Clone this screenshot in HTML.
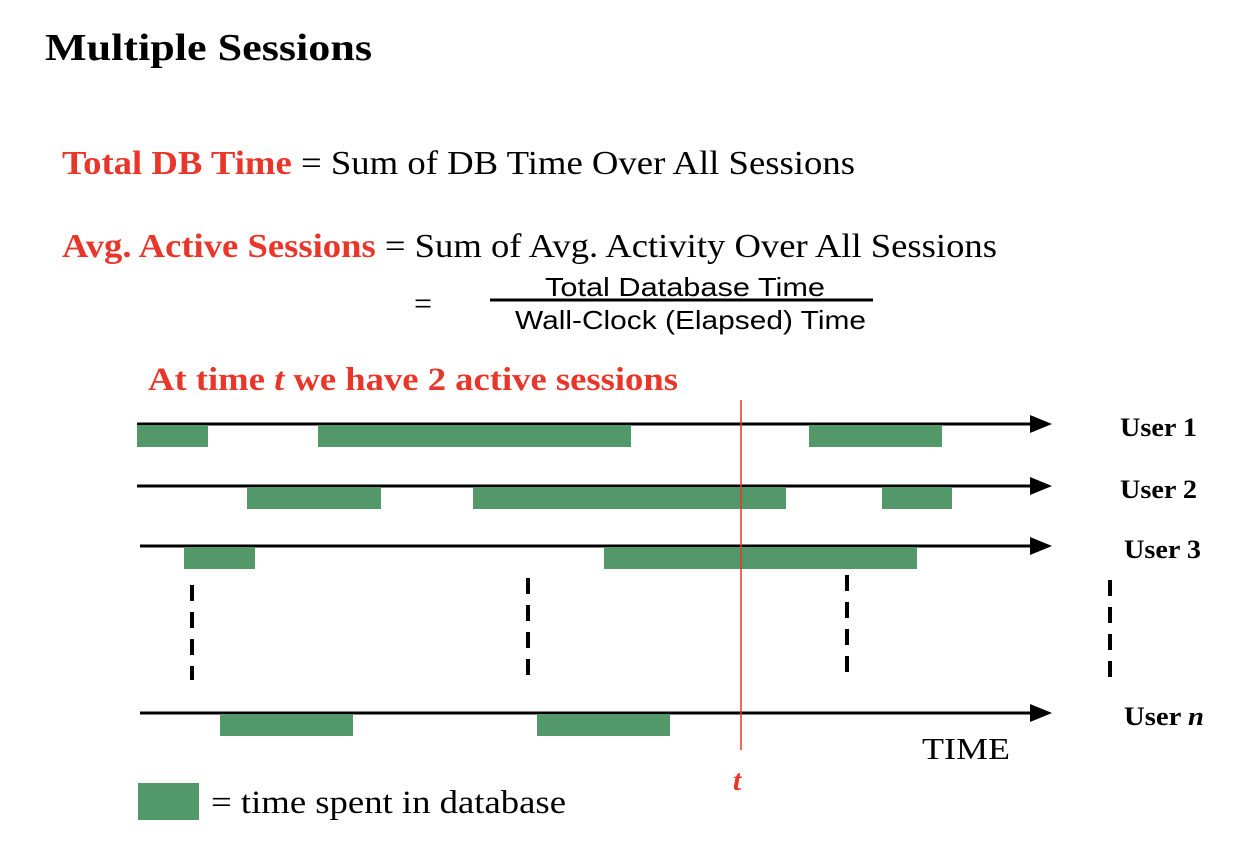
<!DOCTYPE html>
<html><head><meta charset="utf-8"><style>
body{margin:0;background:#fff;width:1256px;height:854px;overflow:hidden}
svg{display:block}
</style></head><body>
<svg id="c" width="1256" height="854" font-family="Liberation Serif, serif">
<text x="45" y="60" font-size="38" font-weight="bold" textLength="327" lengthAdjust="spacingAndGlyphs">Multiple Sessions</text>
<text x="62" y="174" font-size="34" textLength="793" lengthAdjust="spacingAndGlyphs"><tspan fill="#e8372a" font-weight="bold">Total DB Time</tspan> = Sum of DB Time Over All Sessions</text>
<text x="62" y="257" font-size="34" textLength="935" lengthAdjust="spacingAndGlyphs"><tspan fill="#e8372a" font-weight="bold">Avg. Active Sessions</tspan> = Sum of Avg. Activity Over All Sessions</text>
<text x="414" y="314" font-size="32">=</text>
<text x="545" y="296" font-size="26" textLength="280" lengthAdjust="spacingAndGlyphs" font-family="Liberation Sans, sans-serif">Total Database Time</text>
<line x1="490" y1="300" x2="873" y2="300" stroke="#000" stroke-width="3"/>
<text x="515" y="329" font-size="26" textLength="351" lengthAdjust="spacingAndGlyphs" font-family="Liberation Sans, sans-serif">Wall-Clock (Elapsed) Time</text>
<text x="148" y="390" font-size="33" textLength="530" lengthAdjust="spacingAndGlyphs" fill="#e8372a" font-weight="bold">At time <tspan font-style="italic">t</tspan> we have 2 active sessions</text>
<g id="plot"></g>
<text x="922" y="759" font-size="31" textLength="88" lengthAdjust="spacingAndGlyphs">TIME</text>
<rect x="138" y="783" width="61" height="37" fill="#529869"/>
<text x="211" y="813" font-size="33" textLength="355" lengthAdjust="spacingAndGlyphs">= time spent in database</text>
</svg>
<script>
const users = ["User 1","User 2","User 3","User n"];
const userLabels = ["User 1","User 2","User 3","User "];
const sessionStarts = [[0,181,672],[110,336,745],[47,467],[83,400]];
const sessionEnds = [[71,494,805],[244,649,815],[118,780],[216,533]];
const markerTime = 604;
const lineY = [424,486,546,713];
const x0 = 137, x1 = 1050;
const xScale = t => x0 + t;
const NS = "http://www.w3.org/2000/svg";
const g = document.getElementById('plot');
function mk(tag, attrs){const e=document.createElementNS(NS,tag);for(const k in attrs)e.setAttribute(k,attrs[k]);g.appendChild(e);return e;}
users.forEach((u,i)=>{
  const y=lineY[i];
  const sx = i>=2?140:137;
  const ln=mk('line',{x1:sx,y1:y,x2:1032,y2:y,stroke:'#000','stroke-width':3});
  
  
  const ar=mk('polygon',{points:`1030,${y-9} 1052,${y} 1030,${y+9}`,fill:'#000'});
  
  
  sessionStarts[i].forEach((s,j)=>{
    const e=sessionEnds[i][j];
    const r=mk('rect',{x:xScale(s),y:y+1,width:xScale(e)-xScale(s),height:22,fill:'#529869'});
    
    
  });
  const t=mk('text',{x:i==0||i==1?1120:1124,y:y+12,'font-size':26,'font-weight':'bold',textLength:i==3?80:77,lengthAdjust:'spacingAndGlyphs'});
  t.textContent=userLabels[i];
  if(i==3){const ts=document.createElementNS(NS,'tspan');ts.setAttribute('font-style','italic');ts.textContent='n';t.appendChild(ts);}
  
  
});
[[192,585,680],[528,578,678],[847,575,675],[1110,580,680]].forEach(d=>{
  const l=mk('line',{x1:d[0],y1:d[1],x2:d[0],y2:d[2],stroke:'#000','stroke-width':4,'stroke-dasharray':'16 11'});
  
  
});
const mx=xScale(markerTime);
const ml=mk('line',{x1:mx,y1:400,x2:mx,y2:750,stroke:'#e8372a','stroke-width':1.5});


const mt=mk('text',{x:mx-4,y:790,'font-size':30,fill:'#e8372a','font-weight':'bold','font-style':'italic','text-anchor':'middle'});
mt.textContent='t';


</script>
</body></html>
